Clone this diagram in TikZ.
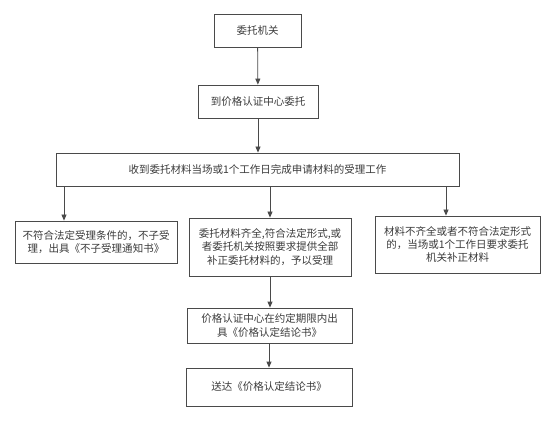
\documentclass[tikz,border=0pt]{standalone}
\usepackage{fontspec}
\usepackage{tikz}
\usetikzlibrary{arrows.meta}
\newfontfamily\cjk{Noto Sans CJK SC}
\definecolor{linegray}{HTML}{4A4A4A}
\definecolor{textgray}{HTML}{3A3A3A}

\begin{document}
\begin{tikzpicture}[x=1pt, y=-1pt,
		box/.style={draw=linegray, line width=0.8pt, align=center, inner sep=0pt,
			text=textgray, font=\cjk\fontsize{10.5}{13.3}\selectfont},
		arr/.style={draw=linegray, line width=0.8pt, -{Triangle[width=5pt,length=6pt]}}]
			\useasboundingbox (0,0) rectangle (554,422);
			\node[box, minimum width=87pt, minimum height=33pt] (org) at (257.5,30.5) {委托机关};
			\node[box, minimum width=120pt, minimum height=33pt] (center) at (258,101.5) {到价格认证中心委托};
			\node[box, minimum width=403pt, minimum height=33pt] (accept) at (257.5,169.5) {收到委托材料当场或1个工作日完成申请材料的受理工作};
			\node[box, minimum width=162pt, minimum height=42pt] (reject) at (96,242) {不符合法定受理条件的，不子受\\理，出具《不子受理通知书》};
			\node[box, minimum width=162pt, minimum height=58pt] (ok) at (270,247) {委托材料齐全,符合法定形式,或\\者委托机关按照要求提供全部\\补正委托材料的，予以受理};
			\node[box, minimum width=165pt, minimum height=57pt] (supp) at (457.5,244.5) {材料不齐全或者不符合法定形式\\的，当场或1个工作日要求委托\\机关补正材料};
			\node[box, minimum width=165pt, minimum height=35pt] (issue) at (269.5,325.5) {价格认证中心在约定期限内出\\具《价格认定结论书》};
			\node[box, minimum width=166pt, minimum height=38pt] (deliver) at (269,387) {送达《价格认定结论书》};
			\coordinate (leftx) at (64,0);
			\coordinate (rightx) at (446,0);
			\draw[arr] (org) -- (center);
			\draw[arr] (center) -- (center |- accept.north);
			\draw[arr] (accept.south -| leftx) -- (reject.north -| leftx);
			\draw[arr] (accept.south -| ok.north) -- (ok);
			\draw[arr] (accept.south -| rightx) -- (supp.north -| rightx);
			\draw[arr] (ok) -- (ok |- issue.north);
			\draw[arr] (issue.south -| deliver.north) -- (deliver);
		\end{tikzpicture}
\end{document}
